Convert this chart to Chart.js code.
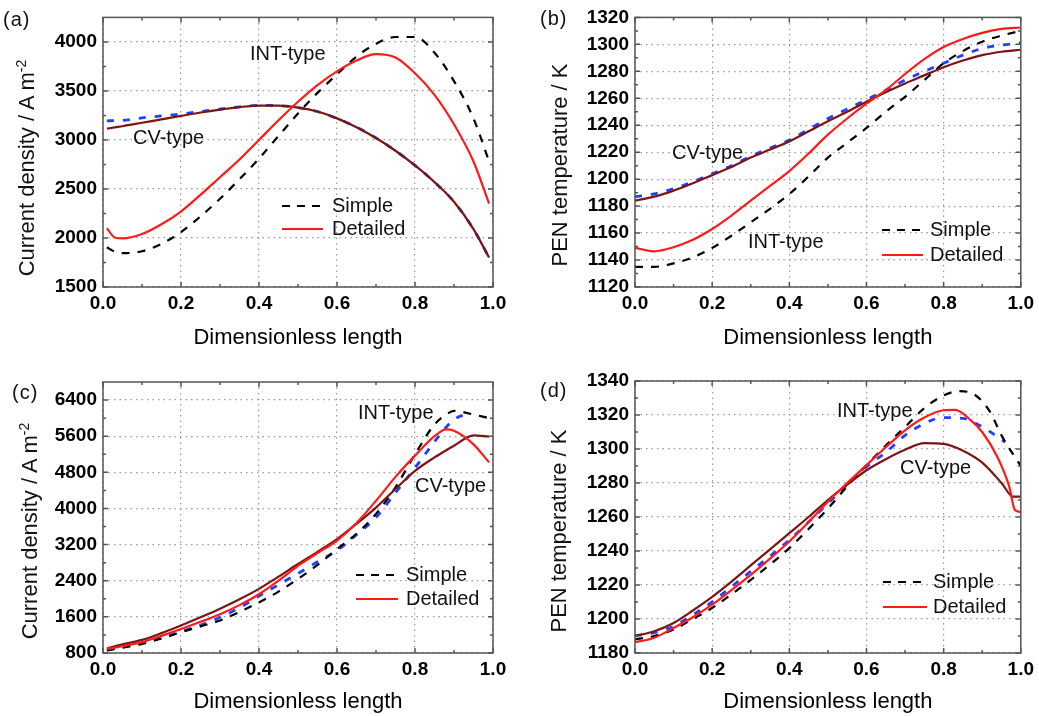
<!DOCTYPE html>
<html>
<head>
<meta charset="utf-8">
<script src="https://cdn.jsdelivr.net/npm/chart.js@4.4.0/dist/chart.umd.min.js"></script>
<style>
  body { margin: 0; background: #fff; }
  #wrap { position: relative; width: 1039px; height: 716px; overflow: hidden;
          font-family: "Liberation Sans", Arial, sans-serif; color: #111; }
  canvas { position: absolute; }
  .t { position: absolute; white-space: nowrap; line-height: 1; font-size: 20px; transform: translateY(-50%); }
  .yt { position: absolute; white-space: nowrap; font-size: 22px; line-height: 1;
        transform: translate(-50%, -50%) rotate(-90deg); }
  .yt sup { font-size: 14px; line-height: 0; }
  .lg { position: absolute; }
</style>
</head>
<body>
<div id="wrap">
  <canvas id="ca" width="520" height="360" style="left:0;top:0"></canvas>
  <canvas id="cb" width="519" height="360" style="left:520px;top:0"></canvas>
  <canvas id="cc" width="520" height="356" style="left:0;top:360px"></canvas>
  <canvas id="cd" width="519" height="356" style="left:520px;top:360px"></canvas>

  <div class="t" style="left:3px;top:19px;letter-spacing:1px">(a)</div>
  <div class="t" style="left:540px;top:18px;letter-spacing:1px">(b)</div>
  <div class="t" style="left:12px;top:392px;letter-spacing:1px">(c)</div>
  <div class="t" style="left:540px;top:390px;letter-spacing:1px">(d)</div>

  <div class="yt" style="left:27px;top:168px">Current density / A m<sup>-2</sup></div>
  <div class="yt" style="left:560px;top:165px">PEN temperature / K</div>
  <div class="yt" style="left:30px;top:531px">Current density / A m<sup>-2</sup></div>
  <div class="yt" style="left:559px;top:531px">PEN temperature / K</div>

  <div class="t" style="left:250px;top:53px">INT-type</div>
  <div class="t" style="left:133px;top:137px">CV-type</div>
  <div class="t" style="left:672px;top:152px">CV-type</div>
  <div class="t" style="left:748px;top:241px">INT-type</div>
  <div class="t" style="left:358px;top:412px">INT-type</div>
  <div class="t" style="left:415px;top:485px">CV-type</div>
  <div class="t" style="left:837px;top:410px">INT-type</div>
  <div class="t" style="left:900px;top:467px">CV-type</div>
</div>

<script>
// ---- data ----
const xTicks = [0, 0.2, 0.4, 0.6, 0.8, 1.0];
const yTicksA = [1500, 2000, 2500, 3000, 3500, 4000];
const yTicksB = [1120, 1140, 1160, 1180, 1200, 1220, 1240, 1260, 1280, 1300, 1320];
const yTicksC = [800, 1600, 2400, 3200, 4000, 4800, 5600, 6400];
const yTicksD = [1180, 1200, 1220, 1240, 1260, 1280, 1300, 1320, 1340];

// (a) current density, case 1
const xA = [0.01, 0.03, 0.05, 0.1, 0.15, 0.2, 0.25, 0.3, 0.35, 0.4, 0.45, 0.5, 0.55, 0.6, 0.65, 0.7, 0.75, 0.8, 0.85, 0.9, 0.95, 0.99];
const intDetA = [2100, 2005, 1995, 2040, 2140, 2270, 2440, 2620, 2800, 3000, 3200, 3390, 3560, 3700, 3810, 3875, 3840, 3680, 3460, 3160, 2780, 2350];
const intSimA = [1905, 1860, 1845, 1865, 1940, 2060, 2220, 2400, 2600, 2810, 3040, 3270, 3480, 3670, 3850, 3980, 4050, 4050, 3890, 3600, 3220, 2780];
const cvDetA = [3115, 3128, 3140, 3175, 3210, 3245, 3280, 3310, 3335, 3350, 3350, 3330, 3290, 3220, 3130, 3020, 2890, 2740, 2570, 2370, 2090, 1800];
const cvSimA = [3195, 3197, 3200, 3225, 3245, 3265, 3290, 3315, 3338, 3352, 3350, 3330, 3290, 3220, 3130, 3020, 2890, 2740, 2570, 2370, 2090, 1800];

// (b) PEN temperature, case 1
const xB = [0, 0.05, 0.1, 0.15, 0.2, 0.25, 0.3, 0.35, 0.4, 0.45, 0.5, 0.55, 0.6, 0.65, 0.7, 0.75, 0.8, 0.85, 0.9, 0.95, 1.0];
const cvDetB = [1184, 1187, 1191.5, 1197, 1203, 1209, 1216, 1222, 1228, 1235.5, 1243, 1250, 1257.5, 1264.5, 1271, 1277, 1283, 1288, 1292, 1294.5, 1296];
const cvSimB = [1187, 1189, 1193, 1198, 1204, 1210, 1217, 1223, 1229, 1237, 1245, 1252, 1259, 1266, 1273.5, 1280, 1286, 1292, 1297, 1299.5, 1301];
const intDetB = [1149, 1146.5, 1149.5, 1155, 1163, 1173, 1184, 1195, 1206, 1219, 1233, 1245, 1256, 1266, 1278, 1289, 1298, 1304, 1308.5, 1311.5, 1312.5];
const intSimB = [1135, 1135, 1137.5, 1142, 1149, 1158, 1168, 1178, 1189, 1202, 1216, 1227, 1238, 1250, 1261, 1273.5, 1286, 1295, 1302, 1306.5, 1310];

// (c) current density, case 2
const xC = [0.01, 0.05, 0.1, 0.15, 0.2, 0.25, 0.3, 0.35, 0.4, 0.45, 0.5, 0.55, 0.6, 0.65, 0.7, 0.75, 0.8, 0.85, 0.88, 0.9, 0.95, 0.99];
const intDetC = [888, 950, 1040, 1180, 1330, 1490, 1660, 1860, 2100, 2400, 2730, 3010, 3290, 3680, 4170, 4700, 5170, 5600, 5750, 5720, 5420, 5020];
const cvDetC = [900, 990, 1090, 1240, 1410, 1590, 1780, 1990, 2220, 2490, 2770, 3040, 3320, 3660, 4020, 4430, 4830, 5130, 5290, 5390, 5620, 5590];
const intSimC = [860, 920, 1000, 1120, 1260, 1390, 1520, 1710, 1920, 2160, 2440, 2750, 3100, 3440, 3880, 4470, 5200, 5860, 6080, 6160, 6080, 6000];
const xCvSimC = [0.01, 0.05, 0.1, 0.15, 0.2, 0.25, 0.3, 0.35, 0.4, 0.45, 0.5, 0.55, 0.6, 0.65, 0.7, 0.75, 0.8, 0.85, 0.88, 0.9, 0.93];
const cvSimC = [860, 930, 1020, 1140, 1270, 1420, 1590, 1800, 2060, 2310, 2560, 2820, 3070, 3420, 3800, 4350, 4900, 5480, 5800, 5970, 6090];

// (d) PEN temperature, case 2
const xD = [0, 0.05, 0.1, 0.15, 0.2, 0.25, 0.3, 0.35, 0.4, 0.45, 0.5, 0.55, 0.6, 0.65, 0.7, 0.75, 0.8, 0.85, 0.9, 0.95, 0.98, 1.0];
const cvDetD = [1190, 1192.8, 1197.7, 1205, 1213, 1222, 1231.5, 1241, 1250.5, 1260, 1270, 1279, 1287.5, 1294, 1299.5, 1303.5, 1303, 1299, 1292, 1280, 1272, 1272];
const xIntDetD = [0, 0.05, 0.1, 0.15, 0.2, 0.25, 0.3, 0.35, 0.4, 0.45, 0.5, 0.55, 0.6, 0.65, 0.7, 0.75, 0.8, 0.83, 0.87, 0.9, 0.94, 0.97, 0.985, 1.0];
const intDetD = [1186.3, 1189, 1194.7, 1201, 1208.4, 1217, 1226, 1235.5, 1245.6, 1257, 1269, 1280, 1290.5, 1301, 1311, 1318.5, 1322.8, 1323, 1317, 1310, 1295, 1278, 1264, 1263];
const xIntSimD = [0, 0.05, 0.1, 0.15, 0.2, 0.25, 0.3, 0.35, 0.4, 0.45, 0.5, 0.55, 0.6, 0.65, 0.7, 0.75, 0.8, 0.84, 0.88, 0.92, 0.95, 1.0];
const intSimD = [1188, 1190, 1193.8, 1200, 1206.5, 1214.5, 1223, 1232, 1241.7, 1253, 1265, 1278, 1290.5, 1302, 1313, 1324, 1331.5, 1334, 1332, 1322, 1308, 1290];
const xCvSimD = [0, 0.05, 0.1, 0.15, 0.2, 0.25, 0.3, 0.35, 0.4, 0.45, 0.5, 0.55, 0.6, 0.65, 0.7, 0.75, 0.8, 0.85, 0.9, 0.96];
const cvSimD = [1190, 1192, 1195.7, 1202.5, 1210, 1219, 1228, 1237, 1246.5, 1257, 1268, 1279, 1289.6, 1298, 1308, 1315, 1318.5, 1318, 1313, 1304];

// ---- drawing ----
const FONT = '"Liberation Sans", Arial, sans-serif';
const RED = '#ff1a1a', BROWN = '#7d1414', BLUE = '#2040ff', BLACK = '#000';

function pts(xs, ys) {
    return xs.map((x, i) => ({ x: x, y: ys[i] }));
}

// box round the plot with inward major and minor ticks
const frame = {
    id: 'frame',
    afterDatasetsDraw(chart, args, opts) {
        const { ctx, chartArea: a, scales: { x, y } } = chart;
        ctx.save();
        ctx.strokeStyle = '#555';
        ctx.lineWidth = 1.5;
        ctx.beginPath();
        const xt = (v, len) => {
            const p = x.getPixelForValue(v);
            ctx.moveTo(p, a.bottom); ctx.lineTo(p, a.bottom - len);
            ctx.moveTo(p, a.top); ctx.lineTo(p, a.top + len);
        };
        const yt = (v, len) => {
            const p = y.getPixelForValue(v);
            ctx.moveTo(a.left, p); ctx.lineTo(a.left + len, p);
            ctx.moveTo(a.right, p); ctx.lineTo(a.right - len, p);
        };
        x.ticks.forEach(t => xt(t.value, 5));
        y.ticks.forEach(t => yt(t.value, 5));
        opts.xMinor.forEach(v => xt(v, 3));
        opts.yMinor.forEach(v => yt(v, 3));
        ctx.stroke();
        ctx.strokeRect(a.left, a.top, a.width, a.height);
        ctx.restore();
    }
};

// legend drawn inside the plot with the chart's own line styles
const legendBox = {
    id: 'legendBox',
    afterDatasetsDraw(chart, args, opts) {
        const { ctx } = chart;
        ctx.save();
        ctx.lineWidth = 2.2;
        ctx.strokeStyle = BLACK;
        ctx.setLineDash([8, 7]);
        ctx.beginPath();
        ctx.moveTo(opts.x1, opts.y1); ctx.lineTo(opts.x2, opts.y1);
        ctx.stroke();
        ctx.setLineDash([]);
        ctx.strokeStyle = RED;
        ctx.beginPath();
        ctx.moveTo(opts.x1, opts.y2); ctx.lineTo(opts.x2, opts.y2);
        ctx.stroke();
        ctx.fillStyle = '#111';
        ctx.font = '20px ' + FONT;
        ctx.textBaseline = 'middle';
        ctx.fillText('Simple', opts.tx, opts.y1);
        ctx.fillText('Detailed', opts.tx, opts.y2);
        ctx.restore();
    }
};

function makeChart(id, p) {
    const tickFont = { family: FONT, size: 19, weight: 'bold' };
    const titleFont = { family: FONT, size: 22 };
    const grid = { color: '#9a9a9a', lineWidth: 1.2, drawTicks: false };
    const border = { display: false, dash: [1.5, 4] };
    return new Chart(document.getElementById(id), {
        type: 'line',
        data: {
            datasets: [
                { data: p.intDet, borderColor: RED, borderWidth: 2.2 },
                { data: p.cvDet, borderColor: BROWN, borderWidth: 2.2 },
                { data: p.intSim, borderColor: BLACK, borderWidth: 2.2, borderDash: [8, 8] },
                { data: p.cvSim, borderColor: BLUE, borderWidth: 2.8, borderDash: [7, 9] }
            ]
        },
        options: {
            responsive: false,
            animation: false,
            layout: { padding: { top: p.top, right: p.right, left: 0, bottom: 0 } },
            elements: {
                point: { radius: 0 },
                line: { cubicInterpolationMode: 'monotone', fill: false }
            },
            plugins: {
                legend: { display: false },
                tooltip: { enabled: false },
                frame: { xMinor: p.xMinor, yMinor: p.yMinor },
                legendBox: p.legend
            },
            scales: {
                x: {
                    type: 'linear', min: 0, max: 1,
                    afterBuildTicks: s => { s.ticks = xTicks.map(v => ({ value: v })); },
                    afterFit: s => { s.height = p.xh; },
                    ticks: { font: tickFont, color: '#000', padding: 5, maxRotation: 0,
                             callback: v => v.toFixed(1) },
                    grid: grid, border: border,
                    title: { display: true, text: 'Dimensionless length', font: titleFont, color: '#000',
                             padding: { top: 0, bottom: p.tb } }
                },
                y: {
                    type: 'linear', min: p.ymin, max: p.ymax,
                    afterBuildTicks: s => { s.ticks = p.yTicks.map(v => ({ value: v })); },
                    afterFit: s => { s.width = p.yw; },
                    ticks: { font: tickFont, color: '#000', padding: 6, callback: v => String(v) },
                    grid: grid, border: border
                }
            }
        },
        plugins: [frame, legendBox]
    });
}

makeChart('ca', {
    intDet: pts(xA, intDetA), cvDet: pts(xA, cvDetA), intSim: pts(xA, intSimA), cvSim: pts(xA, cvSimA),
    ymin: 1500, ymax: 4250, yTicks: yTicksA,
    xMinor: [0.1, 0.3, 0.5, 0.7, 0.9], yMinor: [1750, 2250, 2750, 3250, 3750],
    top: 15, right: 27, xh: 73, yw: 103, tb: 9,
    legend: { x1: 282, x2: 323, y1: 206, y2: 229, tx: 332 }
});

makeChart('cb', {
    intDet: pts(xB, intDetB), cvDet: pts(xB, cvDetB), intSim: pts(xB, intSimB), cvSim: pts(xB, cvSimB),
    ymin: 1120, ymax: 1320, yTicks: yTicksB,
    xMinor: [0.1, 0.3, 0.5, 0.7, 0.9], yMinor: [1130, 1150, 1170, 1190, 1210, 1230, 1250, 1270, 1290, 1310],
    top: 15, right: 15, xh: 73, yw: 115, tb: 9,
    legend: { x1: 362, x2: 403, y1: 230, y2: 255, tx: 410 }
});

makeChart('cc', {
    intDet: pts(xC, intDetC), cvDet: pts(xC, cvDetC), intSim: pts(xC, intSimC), cvSim: pts(xCvSimC, cvSimC),
    ymin: 800, ymax: 6800, yTicks: yTicksC,
    xMinor: [0.1, 0.3, 0.5, 0.7, 0.9], yMinor: [1200, 2000, 2800, 3600, 4400, 5200, 6000],
    top: 22, right: 27, xh: 63, yw: 103, tb: 1,
    legend: { x1: 356, x2: 398, y1: 215, y2: 239, tx: 406 }
});

makeChart('cd', {
    intDet: pts(xIntDetD, intDetD), cvDet: pts(xD, cvDetD), intSim: pts(xIntSimD, intSimD), cvSim: pts(xCvSimD, cvSimD),
    ymin: 1180, ymax: 1340, yTicks: yTicksD,
    xMinor: [0.1, 0.3, 0.5, 0.7, 0.9], yMinor: [1190, 1210, 1230, 1250, 1270, 1290, 1310, 1330],
    top: 21, right: 15, xh: 63, yw: 115, tb: 1,
    legend: { x1: 363, x2: 407, y1: 222, y2: 247, tx: 413 }
});
</script>
</body>
</html>
